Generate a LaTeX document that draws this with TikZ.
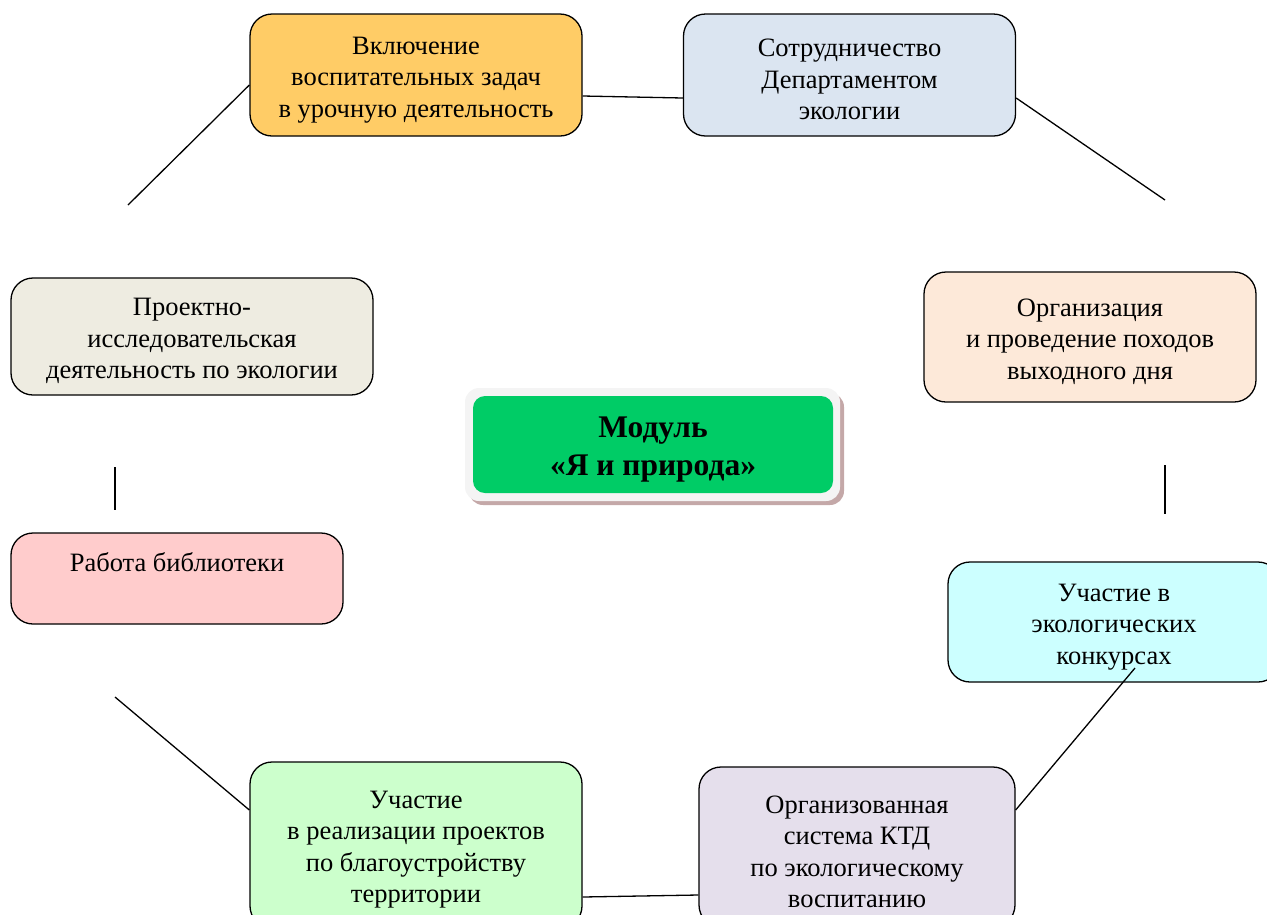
\documentclass[tikz,border=0pt]{standalone}
\usepackage{fontspec}
\setmainfont{Liberation Serif}
\usetikzlibrary{calc}

\definecolor{boxYellow}{RGB}{255,204,102}
\definecolor{boxBlue}{RGB}{219,229,241}
\definecolor{boxPeach}{RGB}{253,233,217}
\definecolor{boxCyan}{RGB}{204,255,255}
\definecolor{boxLilac}{RGB}{229,223,236}
\definecolor{boxGreen}{RGB}{204,255,204}
\definecolor{boxPink}{RGB}{255,204,204}
\definecolor{boxBeige}{RGB}{238,236,225}
\definecolor{modGreen}{RGB}{0,204,102}
\definecolor{modShadow}{RGB}{196,168,168}

\newcommand{\topgap}{\rule{0pt}{27pt}}

\tikzset{
  box/.style={draw=black, line width=1.3pt, rounded corners=22pt, align=center,
    inner sep=0pt, minimum width=332pt, font=\fontsize{26.5}{31.5}\selectfont},
  link/.style={line width=1.3pt},
}

\begin{document}
\begin{tikzpicture}[x=1pt,y=-1pt]
  \useasboundingbox (0,0) rectangle (1267,914);

  % module in the middle
  \fill[modShadow, rounded corners=14pt] (469,393) rectangle (844,505);
  \fill[gray!9, rounded corners=14pt] (465,388) rectangle (840,501);
  \node[fill=modGreen, rounded corners=12pt, minimum width=360pt, minimum height=97pt,
    align=center, font=\fontsize{31.5}{38}\selectfont\bfseries] (mod) at (653,444.5)
    {\rule{0pt}{31pt}Модуль\\«Я и природа»};

  % boxes round it
  \node[box, fill=boxYellow, minimum height=122pt] (lesson) at (416,75)
    {\topgap Включение\\воспитательных задач\\в урочную деятельность};
  \node[box, fill=boxBlue, minimum height=122pt] (dept) at (849.5,75)
    {\topgap Сотрудничество\\Департаментом\\экологии};
  \node[box, fill=boxPeach, minimum height=130pt] (hike) at (1090,337)
    {\topgap Организация\\и проведение походов\\выходного дня};
  \node[box, fill=boxCyan, minimum height=120pt] (contest) at (1114,622)
    {\topgap Участие в\\экологических\\конкурсах};
  \node[box, fill=boxLilac, minimum width=316pt, minimum height=160pt] (ktd) at (857,847)
    {\topgap Организованная\\система КТД\\по экологическому\\воспитанию};
  \node[box, fill=boxGreen, minimum height=166pt] (improve) at (416,845)
    {\topgap Участие\\в реализации проектов\\по благоустройству\\территории};
  \node[box, fill=boxPink, minimum height=91pt] (library) at (177,578.5)
    {\topgap Работа библиотеки\\\strut};
  \node[box, fill=boxBeige, minimum width=362pt, minimum height=117pt] (research) at (192,336.5)
    {\topgap Проектно-\\исследовательская\\деятельность по экологии};

  % free ends of the broken links
  \coordinate (e1) at (1165,200);
  \coordinate (e2) at (1165,465);
  \coordinate (e3) at (1165,514);
  \coordinate (e4) at (115,697);
  \coordinate (e5) at (115,467);
  \coordinate (e6) at (115,510);
  \coordinate (e7) at (128,205);

  % links
  \draw[link] ($(lesson.east)+(0,21)$) -- ($(dept.west)+(0,23)$);
  \draw[link] ($(dept.east)+(0,23)$) -- (e1);
  \draw[link] (e2) -- (e3);
  \draw[link] ($(contest.center)+(21,46)$) -- ($(ktd.east)+(0,-37)$);
  \draw[link] ($(ktd.west)+(0,48)$) -- ($(improve.east)+(0,52)$);
  \draw[link] ($(improve.west)+(0,-35)$) -- (e4);
  \draw[link] (e5) -- (e6);
  \draw[link] (e7) -- ($(lesson.west)+(0,10)$);
\end{tikzpicture}
\end{document}
